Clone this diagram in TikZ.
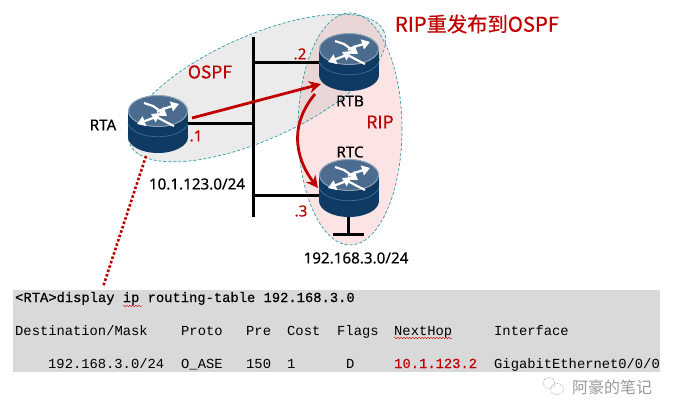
\documentclass[tikz,border=0pt]{standalone}
\usepackage{fontspec}
\setmainfont[FakeBold=0.3]{Noto Sans}
\setmonofont{Liberation Mono}
\newfontfamily\clibold[FakeBold=0.5]{Liberation Mono}
\newfontfamily\cjk[FakeBold=0.5]{Noto Sans CJK SC}
\newfontfamily\cjkplain{Noto Sans CJK SC}
\usetikzlibrary{arrows.meta,decorations.pathmorphing}
\definecolor{hwred}{HTML}{C00000}
\definecolor{routertop}{HTML}{4C6C8F}
\definecolor{routerrim}{HTML}{8CA3B8}
\definecolor{routerbody}{HTML}{0E3A63}
\definecolor{routerline}{HTML}{3F668C}
\definecolor{arealine}{HTML}{2E9CA6}
\definecolor{tablegray}{HTML}{D9D9D9}
\definecolor{ripfill}{HTML}{FDE4E4}
\definecolor{ospffill}{HTML}{B2B2B2}
\tikzset{
    area/.style={draw=arealine,densely dashed,line width=0.7pt},
    routerbox/.style={minimum width=60pt,minimum height=58pt,inner sep=0pt},
    link/.style={line width=3pt,black},
    flow/.style={line width=2.8pt,hwred,-{Stealth[length=12pt,width=12pt]}},
    lbl/.style={inner sep=0pt,font=\fontsize{15.2}{18}\selectfont},
    addr/.style={lbl,text=hwred},
    area name/.style={inner sep=0pt,text=hwred,font=\cjk\fontsize{17.5}{20}\selectfont},
    cli/.style={inner sep=0pt,anchor=base west,font=\ttfamily\fontsize{13.8}{16}\selectfont},
    cli bold/.style={cli,font=\clibold\fontsize{13.8}{16}\selectfont},
    squiggle/.style={draw=red!85!black,line width=0.4pt,decorate,decoration={snake,amplitude=0.7pt,segment length=3pt}},
    router/.pic={
        \fill[routerbody] (-30,-13) rectangle (30,13);
        \fill[routerbody] (0,13) ellipse [x radius=30pt,y radius=16pt];
        \draw[routerline,line width=0.8pt] (-30,0) .. controls (-22,17) and (22,17) .. (30,0);
        \fill[routertop,draw=routerrim,line width=1pt] (0,-13) ellipse [x radius=29.5pt,y radius=15.5pt];
        \begin{scope}[white,line width=2.2pt,-{Triangle[length=8pt,width=10pt]}]
            \draw (-1,-12) -- (5,-15) -- (21,-20);
            \draw (-14,-21) -- (-5,-18) -- (9,-8);
            \draw (1,-10) -- (-5,-6) -- (-21,0);
            \draw (16,2) -- (8,-2) -- (-7,-10);
        \end{scope}
    }
}
\begin{document}
\begin{tikzpicture}[x=1pt,y=-1pt]
    \useasboundingbox (0,0) rectangle (674,417);

    % areas
    \fill[ripfill] (350,129) ellipse [x radius=52pt,y radius=116pt];
    \fill[ospffill,opacity=0.26,rotate around={24:(257,88)}] (257,88) ellipse [x radius=139pt,y radius=52pt];
    \draw[area,rotate around={24:(257,88)}] (257,88) ellipse [x radius=139pt,y radius=52pt];
    \draw[area] (350,129) ellipse [x radius=52pt,y radius=116pt];

    % routers
    \node[routerbox] (RTA) at (158,124) {};
    \node[routerbox] (RTB) at (349,62) {};
    \node[routerbox] (RTC) at (349,188) {};

    % segment
    \coordinate (busTop) at (253,37);
    \coordinate (busBottom) at (253,217);
    \coordinate (busA) at (253,124);
    \coordinate (busB) at (253,63);
    \coordinate (busC) at (253,195);
    \coordinate (stub) at (348,234);
    \coordinate (stubLeft) at (333,234);
    \coordinate (stubRight) at (364,234);
    \draw[link] (busTop) -- (busBottom);
    \draw[link] (RTA.east) -- (busA);
    \draw[link] (busB) -- (RTB.west |- busB);
    \draw[link] (busC) -- (RTC.west |- busC);
    \draw[link] (RTC.south -| stub) -- (stub);
    \draw[link] (stubLeft) -- (stubRight);

    \pic at (RTA) {router};
    \pic at (RTB) {router};
    \pic at (RTC) {router};

    % flows
    \coordinate (flowA) at (192,118);
    \coordinate (flowB) at (321,84);
    \coordinate (flowC) at (315,94);
    \coordinate (flowD) at (318,188);
    \draw[flow] (flowA) -- (flowB);
    \draw[flow] (flowC) .. controls (285,130) and (300,165) .. (flowD);

    % labels
    \node[lbl] (nameA) at (103,125) {RTA};
    \node[lbl] (nameB) at (350,101) {RTB};
    \node[lbl] (nameC) at (350,152) {RTC};
    \node[addr] (ipA) at (196,136) {.1};
    \node[addr] (ipB) at (300,54) {.2};
    \node[addr] (ipC) at (301,211) {.3};
    \node[lbl] (netA) at (197,184) {10.1.123.0/24};
    \node[lbl] (netB) at (356,258) {192.168.3.0/24};
    \node[area name] (ospf) at (210,72) {OSPF};
    \node[area name] (rip) at (380,122) {RIP};
    \node[inner sep=0pt,text=hwred,font=\cjk\fontsize{20.3}{24}\selectfont] (title) at (477,24) {RIP重发布到OSPF};

    % output
    \node[fill=tablegray,anchor=north west,minimum width=647pt,minimum height=82pt,inner sep=0pt] (output) at (13,290) {};
    \coordinate (tap) at (103,287);
    \draw[hwred,line width=2.6pt,dotted] (146,156) -- (tap);
    \node[cli bold] (cmd) at (15,302) {<RTA>display ip routing-table 192.168.3.0};
    \foreach \x/\txt in {15/Destination\slash Mask,181/Proto,246/Pre,287/Cost,337/Flags,394/NextHop,494/Interface}
        \node[cli] at (\x,335) {\txt};
    \foreach \x/\txt in {48/192.168.3.0\slash 24,181/O\_ASE,246/150,287/1,346/D,494/GigabitEthernet0\slash 0\slash 0}
        \node[cli] at (\x,368) {\txt};
    \node[cli bold,text=hwred] (hop) at (394,368) {10.1.123.2};
    \coordinate (sqA) at (123,306);
    \coordinate (sqB) at (142,306);
    \coordinate (sqC) at (394,338);
    \coordinate (sqD) at (452,338);
    \draw[squiggle] (sqA) -- (sqB);
    \draw[squiggle] (sqC) -- (sqD);

    % mark
    \node[inner sep=0pt,text=gray!80,font=\cjkplain\fontsize{16}{18}\selectfont] (mark) at (612,387) {阿豪的笔记};
    \draw[gray!70,densely dotted,line width=0.7pt] (549,383) ellipse [x radius=6pt,y radius=5.5pt];
    \draw[gray!70,densely dotted,line width=0.7pt] (557,389) ellipse [x radius=6.5pt,y radius=5.5pt];
\end{tikzpicture}
\end{document}
